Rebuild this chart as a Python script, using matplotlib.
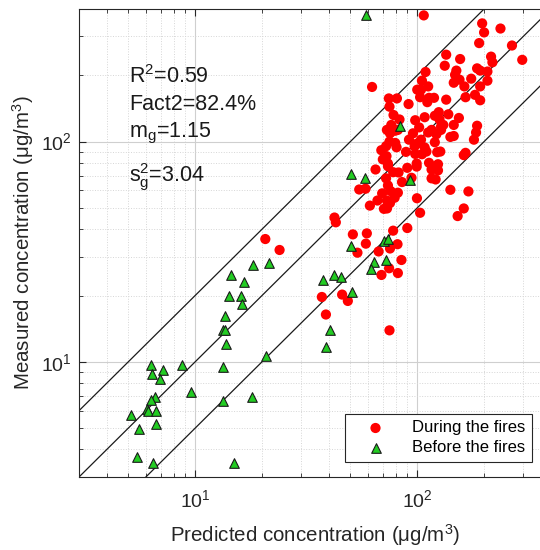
import numpy as np
import matplotlib
matplotlib.use('Agg')
import matplotlib.pyplot as plt
from matplotlib.ticker import LogLocator, NullFormatter

plt.rcParams['font.family'] = ['Liberation Sans', 'DejaVu Sans']
plt.rcParams['mathtext.fontset'] = 'custom'
plt.rcParams['mathtext.rm'] = 'Liberation Sans'
plt.rcParams['mathtext.it'] = 'Liberation Sans:italic'
plt.rcParams['mathtext.default'] = 'regular'

# during the fires (predicted, measured)
during_x = [107, 196, 237, 200, 190, 267, 297, 215, 218, 135, 156, 133, 109, 150, 186,
            192, 175, 207, 207, 105, 146, 163, 192, 112, 100, 62.6, 74.5, 81.0, 103, 113,
            119, 135, 165, 182, 192, 75.0, 91.4, 111, 78.2, 83.2, 97.9, 108, 120, 125, 138,
            154, 76.4, 73.0, 79.6, 75.4, 102, 112, 126, 128, 131, 146, 186, 184, 180, 141,
            146, 122, 91.8, 75.0, 72.4, 79.6, 80.7, 68.9, 99.7, 108, 110, 120, 123, 127, 89.0,
            97.9, 105, 72.7, 70.0, 73.8, 99.4, 113, 124, 64.9, 90.2, 77.9, 82.4, 99.4, 116,
            121, 72.4, 73.8, 85.4, 94.2, 75.9, 81.8, 54.8, 58.5, 69.5, 141, 170, 165, 162,
            66.2, 73.0, 75.4, 61.2, 99.7, 70.8, 73.1, 103, 162, 152, 42.4, 43.0, 90.2, 77.9,
            51.3, 59.3, 58.7, 81.5, 53.8, 67.0, 75.4, 84.9, 74.7, 69.0, 81.8, 24.0, 37.2,
            45.9, 48.7, 38.8, 75.0, 20.7, 148, 155, 73.8, 104, 81.8, 79.1,
            116, 128, 97.3, 116, 124, 104, 95.7]
during_y = [374, 344, 326, 313, 280, 273, 235, 243, 229, 248, 237, 221, 207, 210, 215,
            210, 193, 208, 189, 189, 185, 178, 178, 178, 172, 177, 157, 157, 159, 158,
            158, 155, 159, 163, 154, 144, 148, 151, 132, 126, 125, 129, 131, 136, 133,
            128, 119, 113, 112, 109, 116, 110, 126, 117, 119, 119, 118, 110, 102, 105,
            106, 108, 102, 100, 95.3, 98.6, 94.2, 91.4, 97.9, 94.0, 90.1, 99.3, 89.5, 90.1, 89.8,
            87.9, 87.6, 85.9, 83.0, 79.5, 79.5, 80.1, 78.9, 74.7, 76.0, 72.6, 72.4, 77.0, 68.1,
            67.3, 68.1, 63.2, 65.5, 68.5, 59.6, 58.6, 60.6, 61.1, 58.2, 60.4, 59.4, 88.9, 86.8,
            54.0, 54.0, 52.6, 51.2, 55.3, 49.5, 49.7, 47.5, 49.7, 45.9, 45.2, 43.0, 40.5, 39.4,
            37.9, 38.3, 34.4, 34.2, 31.3, 31.7, 32.7, 29.0, 26.6, 24.8, 25.3, 32.2, 19.7,
            20.2, 18.9, 16.4, 13.9, 36.1, 201, 191, 77.3, 102, 113, 55.6,
            113, 113, 95.2, 74.7, 74.0, 172, 109]

# before the fires (predicted, measured)
before_x = [21.5, 18.2, 14.5, 16.6, 14.2, 16.1, 16.3, 13.6, 13.4, 13.6, 13.8, 20.9, 6.31,
            8.71, 13.3, 6.40, 7.19, 6.93, 9.62, 18.0, 6.61, 6.31, 13.3, 6.05, 6.11, 6.65,
            5.12, 6.69, 5.59, 5.48, 6.44, 15.0, 58.5, 83.8, 50.5, 58.3, 92.7, 50.1, 70.6,
            73.8, 72.1, 64.0, 61.8, 42.1, 45.2, 37.8, 50.8, 40.6, 38.8]
before_y = [28.2, 27.5, 24.8, 23.1, 19.8, 19.8, 18.4, 16.2, 13.9, 14.0, 12.0, 10.6, 9.72,
            9.72, 9.52, 8.83, 9.21, 8.38, 7.29, 6.95, 6.92, 6.73, 6.61, 6.12, 5.97, 5.98,
            5.71, 5.20, 4.97, 3.71, 3.48, 3.48, 376, 118, 71.6, 68.2, 66.6, 33.7, 35.3,
            36.3, 29.0, 28.3, 26.5, 24.8, 24.3, 23.5, 20.8, 14.0, 11.7]

stats = [r'R$^2$=0.59', 'Fact2=82.4%', r'm$_{g}$=1.15', r's$_{g}^{2}$=3.04']
stat_y = [0.842, 0.784, 0.725, 0.631]

fig = plt.figure(figsize=(5.4, 5.5), dpi=100)
ax = fig.add_axes([0.1463, 0.1327, 0.874, 0.851])

# 1:1 and factor-of-two lines
ref = np.array([1.0, 1000.0])
for f in [2.0, 1.0, 0.5]:
    ax.plot(ref, ref * f, color='#1a1a1a', lw=0.9, zorder=2)

ax.scatter(during_x, during_y, s=54, marker='o', color='#ff0000', edgecolors='none',
           zorder=3, label='During the fires')
ax.scatter(before_x, before_y, s=48, marker='^', color='#22cc22', edgecolors='#1a1a1a',
           linewidths=0.8, zorder=4, label='Before the fires')

ax.set_xscale('log')
ax.set_yscale('log')
ax.set_xlim(3, 400)
ax.set_ylim(3, 400)

for a in [ax.xaxis, ax.yaxis]:
    a.set_major_locator(LogLocator(base=10))
    a.set_minor_locator(LogLocator(base=10, subs=np.arange(2, 10)))
    a.set_minor_formatter(NullFormatter())

ax.grid(which='major', color='#cfcfcf', lw=0.8, ls='-')
ax.grid(which='minor', color='#d6d6d6', lw=0.7, ls=':')
ax.set_axisbelow(True)

ax.tick_params(which='both', direction='in', top=True, right=True, colors='#262626',
               labelsize=14, labelcolor='#262626')
ax.tick_params(which='major', length=5)
ax.tick_params(axis='x', which='major', pad=9)
ax.tick_params(axis='y', which='major', pad=5)
ax.tick_params(which='minor', length=3)
for s in ax.spines.values():
    s.set_color('#262626')
    s.set_linewidth(0.8)

ax.set_xlabel(r'Predicted concentration ($\mu$g/m$^3$)', fontsize=14.8, color='#262626', labelpad=8)
ax.set_ylabel(r'Measured concentration ($\mu$g/m$^3$)', fontsize=14.8, color='#262626', labelpad=4)

for t, yy in zip(stats, stat_y):
    ax.text(0.106, yy, t, transform=ax.transAxes, fontsize=15.5, va='baseline', ha='left',
            color='#1a1a1a')

leg = ax.legend(loc='lower right', bbox_to_anchor=(0.960, 0.032), borderaxespad=0,
                fontsize=12, frameon=True, fancybox=False, framealpha=1,
                edgecolor='#262626', handletextpad=0.75, borderpad=0.4, labelspacing=0.3,
                handlelength=2.9)
leg.get_frame().set_linewidth(0.8)

fig.savefig('out.png', dpi=100)
